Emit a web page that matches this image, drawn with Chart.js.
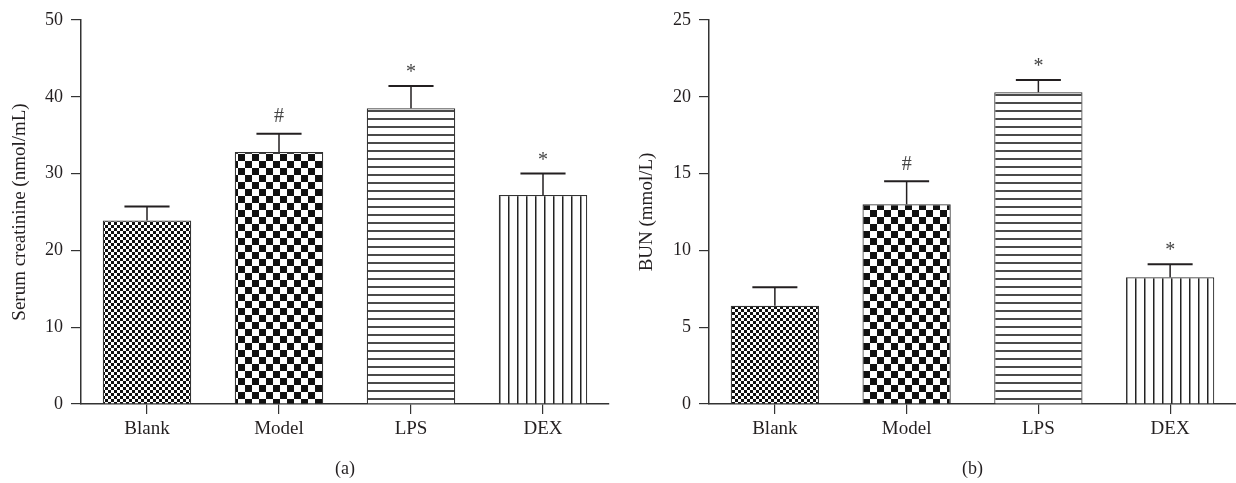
<!DOCTYPE html>
<html><head><meta charset="utf-8">
<script src="https://cdn.jsdelivr.net/npm/chart.js@4/dist/chart.umd.min.js"></script>
<style>
html,body{margin:0;padding:0;background:#fff;}
#wrap{position:relative;width:1236px;height:483px;overflow:hidden;background:#fff}
canvas{position:absolute;top:0}
</style></head><body>
<div id="wrap">
<canvas id="ca" width="620" height="483" style="left:0"></canvas>
<canvas id="cb" width="618" height="483" style="left:618px"></canvas>
</div>
<script>
// ---- data ----
const categories = ['Blank', 'Model', 'LPS', 'DEX'];
const creatinineMeans = [23.9, 32.8, 38.5, 27.2];
const creatinineErrors = [1.8, 2.4, 2.9, 2.8];
const creatinineMarks = ['', '#', '*', '*'];
const creatinineTicks = [0, 10, 20, 30, 40, 50];
const bunMeans = [6.4, 13.0, 20.3, 8.25];
const bunErrors = [1.2, 1.5, 0.8, 0.85];
const bunMarks = ['', '#', '*', '*'];
const bunTicks = [0, 5, 10, 15, 20, 25];

const INK = '#231f20';
const FONT = '"Liberation Serif", "DejaVu Serif", serif';

function makePattern(kind) {
  const c = document.createElement('canvas');
  const g = c.getContext('2d');
  if (kind === 'fine') {
    c.width = 6; c.height = 6;
    g.fillStyle = '#fff'; g.fillRect(0, 0, 6, 6);
    g.fillStyle = '#111';
    g.fillRect(0, 0, 3, 3); g.fillRect(3, 3, 3, 3);
  } else if (kind === 'coarse') {
    c.width = 14; c.height = 14;
    g.fillStyle = '#fff'; g.fillRect(0, 0, 14, 14);
    g.fillStyle = '#111';
    g.fillRect(0, 0, 7, 7); g.fillRect(7, 7, 7, 7);
  } else if (kind === 'hlines') {
    c.width = 8; c.height = 8;
    g.fillStyle = '#fff'; g.fillRect(0, 0, 8, 8);
    g.fillStyle = '#4a4a4a'; g.fillRect(0, 6, 8, 2);
  } else {
    c.width = 9; c.height = 9;
    g.fillStyle = '#fff'; g.fillRect(0, 0, 9, 9);
    g.fillStyle = '#222'; g.fillRect(4, 0, 1.5, 9);
  }
  return g.createPattern(c, 'repeat');
}
const fills = [makePattern('fine'), makePattern('coarse'), makePattern('hlines'), makePattern('vlines')];

const errPlugin = {
  id: 'errbars',
  afterDatasetsDraw(chart) {
    const ctx = chart.ctx;
    const meta = chart.getDatasetMeta(0);
    const y = chart.scales.y;
    const ds = chart.data.datasets[0];
    meta.data.forEach((bar, i) => {
      const top = y.getPixelForValue(ds.data[i]);
      const et = y.getPixelForValue(ds.data[i] + ds.errors[i]);
      const half = bar.width * 0.255;
      ctx.save();
      ctx.strokeStyle = INK;
      ctx.lineWidth = 1.5;
      ctx.beginPath(); ctx.moveTo(bar.x, top); ctx.lineTo(bar.x, et); ctx.stroke();
      ctx.lineWidth = 2;
      ctx.beginPath(); ctx.moveTo(bar.x - half, et); ctx.lineTo(bar.x + half, et); ctx.stroke();
      if (ds.marks[i]) {
        ctx.fillStyle = '#444';
        ctx.font = '20px ' + FONT;
        ctx.textAlign = 'center';
        ctx.textBaseline = 'middle';
        ctx.fillText(ds.marks[i], bar.x, et - (ds.marks[i] === '*' ? 13 : 17));
      }
      ctx.restore();
    });
  }
};

function build(id, values, errors, marks, ticks, yTitle, panel, yWidth, yTitlePad, padRight) {
  const yMax = ticks[ticks.length - 1];
  return new Chart(document.getElementById(id), {
    type: 'bar',
    data: {
      labels: categories,
      datasets: [{
        data: values,
        errors: errors,
        marks: marks,
        backgroundColor: fills,
        borderColor: '#333',
        borderWidth: 1.2,
        categoryPercentage: 1,
        barPercentage: 0.67
      }]
    },
    options: {
      responsive: false,
      devicePixelRatio: 1,
      animation: false,
      events: [],
      layout: { padding: { top: 20, right: padRight, bottom: 0, left: 0 } },
      plugins: { legend: { display: false }, tooltip: { enabled: false } },
      scales: {
        x: {
          grid: { display: true, drawOnChartArea: false, drawTicks: true, tickLength: 10, color: '#333', lineWidth: 1.2, offset: false },
          border: { display: true, color: '#333', width: 1.5 },
          ticks: { color: INK, font: { family: FONT, size: 19 }, padding: 4, maxRotation: 0 },
          title: { display: true, text: panel, color: INK, font: { family: FONT, size: 18 }, padding: { top: 0, bottom: 3 } },
          afterFit: s => { s.height = 79; }
        },
        y: {
          min: 0, max: yMax,
          afterBuildTicks: s => { s.ticks = ticks.map(v => ({ value: v })); },
          grid: { display: true, drawOnChartArea: false, drawTicks: true, tickLength: 10, color: '#333', lineWidth: 1.2 },
          border: { display: true, color: '#333', width: 1.5 },
          ticks: { color: INK, font: { family: FONT, size: 18 }, padding: 8 },
          title: { display: true, text: yTitle, color: INK, font: { family: FONT, size: 19 }, padding: { top: yTitlePad, bottom: 0 } },
          afterFit: s => { s.width = yWidth; }
        }
      }
    },
    plugins: [errPlugin]
  });
}

build('ca', creatinineMeans, creatinineErrors, creatinineMarks, creatinineTicks, 'Serum creatinine (nmol/mL)', '(a)', 81, 9, 11);
build('cb', bunMeans, bunErrors, bunMarks, bunTicks, 'BUN (mmol/L)', '(b)', 91, 18, 0);
</script>
</body></html>
